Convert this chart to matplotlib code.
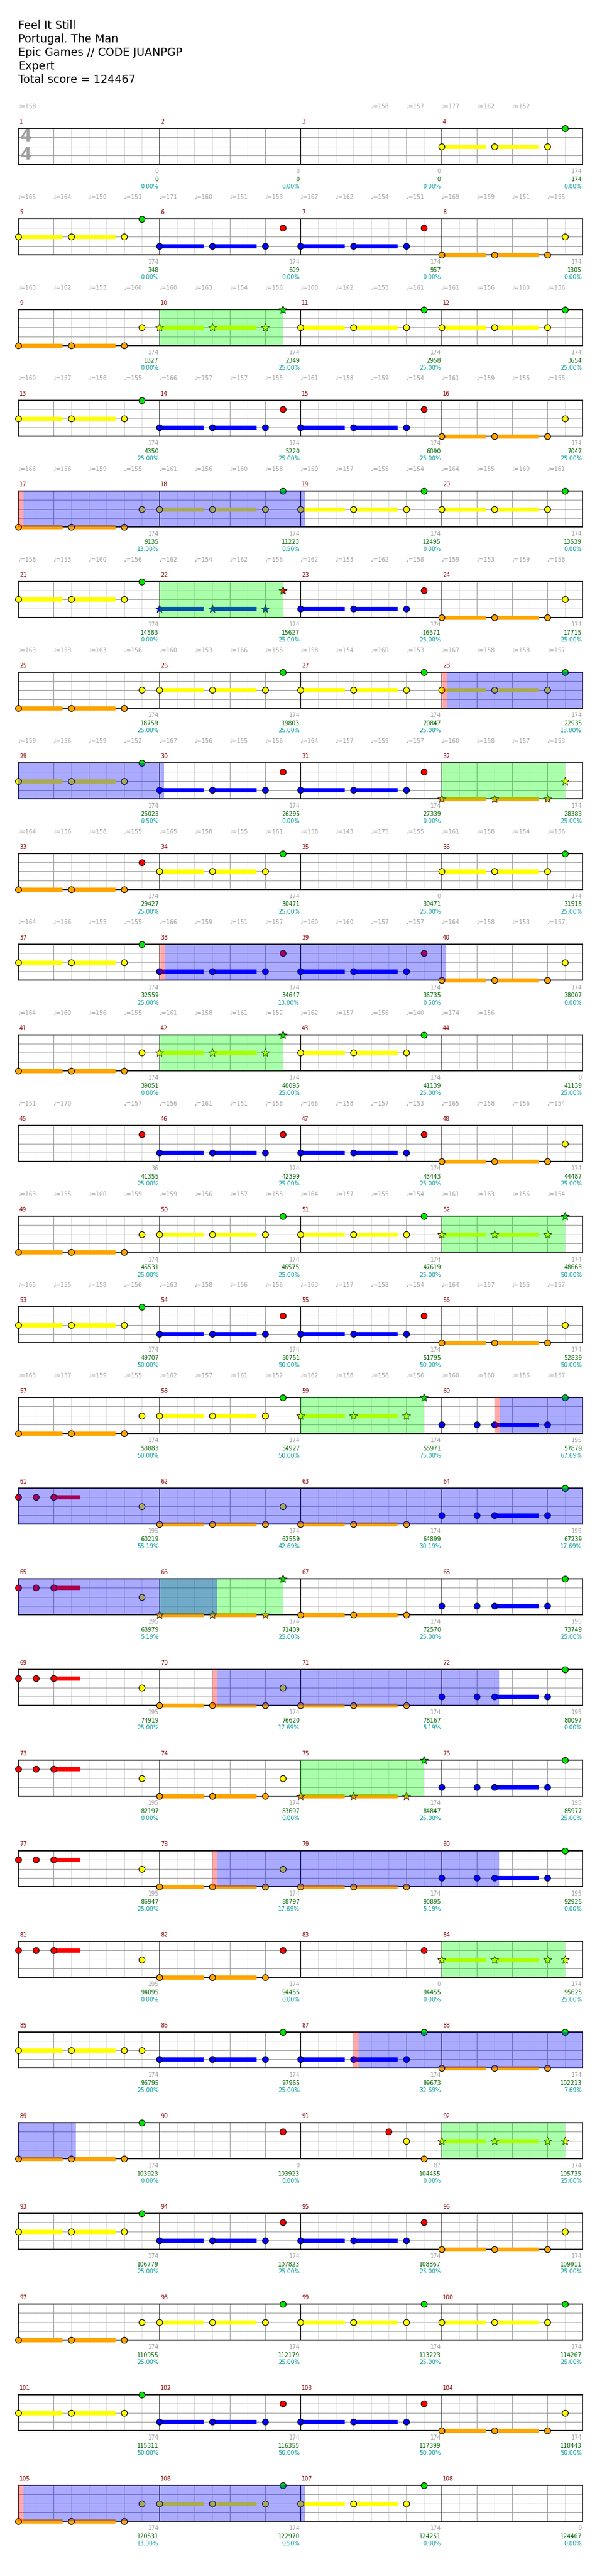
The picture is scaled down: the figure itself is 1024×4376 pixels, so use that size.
import matplotlib
matplotlib.use("Agg")
import matplotlib.pyplot as plt
from matplotlib.patches import Rectangle

W, H = 1024, 4376

title_lines = ["Feel It Still", "Portugal. The Man", "Epic Games // CODE JUANPGP",
               "Expert", "Total score = 124467"]

G, R, Y, B, O = 0, 1, 2, 3, 4
lane_colors = ["#00e800", "#ff0000", "#ffff00", "#0000ff", "#ffa500"]

# repeated figure: (beat, sustain in beats), plus one extra note on beat 3.5
riff = [(0, 1.25), (1.5, 1.25), (3, 0)]
accent_beat = 3.5

N = None
riff_lane = [N, N, N, Y,  Y, B, B, O,  O, Y, Y, Y,  Y, B, B, O,
             O, Y, Y, Y,  Y, B, B, O,  O, Y, Y, Y,  Y, B, B, O,
             O, Y, N, Y,  Y, B, B, O,  O, Y, Y, N,  N, B, B, O,
             O, Y, Y, Y,  Y, B, B, O,  O, Y, Y, N,
             N, O, O, N,  N, O, O, N,  N, O, O, N,  N, O, O, N,
             N, O, O, N,  N, O, N, Y,  Y, B, B, O,  O, N, N, Y,
             Y, B, B, O,  O, Y, Y, Y,  Y, B, B, O,  O, Y, Y, N]
accent_lane = [N, N, N, G,  G, R, R, Y,  Y, G, G, G,  G, R, R, Y,
               Y, G, G, G,  G, R, R, Y,  Y, G, G, G,  G, R, R, Y,
               R, G, N, G,  G, R, R, Y,  Y, G, G, N,  R, R, R, Y,
               Y, G, G, G,  G, R, R, Y,  Y, G, G, N,
               Y, Y, N, N,  Y, G, N, N,  Y, Y, N, N,  Y, Y, G, N,
               Y, Y, N, G,  G, R, R, Y,  Y, G, G, G,  G, R, R, Y,
               G, R, R, Y,  Y, G, G, G,  G, R, R, Y,  Y, G, G, N]
# measures that break the pattern: (beat, lane, sustain)
red_lead = [(0, R, 0), (0.5, R, 0), (1, R, 0.75), (3.5, Y, 0)]
blue_run = [(0, B, 0), (1, B, 0), (1.5, B, 1.25), (3, B, 0), (3.5, G, 0)]
special_notes = {
    60: blue_run, 64: blue_run, 68: blue_run, 72: blue_run, 76: blue_run, 80: blue_run,
    61: red_lead, 65: red_lead, 69: red_lead, 73: red_lead, 77: red_lead, 81: red_lead,
    91: [(2.5, R, 0), (3, Y, 0), (3.5, O, 0)],
}

# star phrases and activations, in beats from the song start
star_phrases = [(36, 39.5), (84, 87.5), (124, 127.5), (164, 167.5), (204, 207.5),
                (232, 235.5), (260, 263.5), (296, 299.5), (332, 335.5), (364, 367.5)]
activations = [(64, 72.13), (108, 116.13), (148, 156.13), (237.5, 261.63),
               (277.5, 285.63), (309.5, 317.63), (345.5, 353.63), (416, 424.13)]
act_lead = 0.15

# tempo marks above each row, one per beat
tempos = [
    [158, N, N, N, N, N, N, N, N, N, 158, 157, 177, 162, 152, N],
    [165, 164, 150, 151, 171, 160, 151, 153, 167, 162, 154, 151, 169, 159, 151, 155],
    [163, 162, 153, 160, 160, 163, 154, 156, 160, 162, 153, 161, 161, 156, 160, 156],
    [160, 157, 156, 155, 166, 157, 157, 155, 161, 158, 159, 154, 161, 159, 155, 155],
    [166, 156, 159, 155, 161, 156, 160, 158, 159, 157, 155, 154, 164, 155, 160, 161],
    [158, 153, 160, 156, 162, 154, 162, 156, 162, 153, 162, 158, 159, 153, 159, 158],
    [163, 153, 163, 156, 160, 153, 166, 155, 158, 154, 160, 153, 167, 158, 158, 157],
    [159, 156, 159, 152, 167, 156, 155, 156, 164, 157, 159, 157, 160, 158, 157, 153],
    [164, 156, 158, 155, 165, 158, 155, 161, 158, 143, 175, 155, 161, 158, 154, 156],
    [164, 156, 155, 155, 166, 159, 151, 157, 160, 160, 157, 157, 164, 158, 153, 157],
    [164, 160, 156, 155, 161, 158, 161, 152, 162, 157, 156, 140, 174, 156, N, N],
    [151, 170, N, 157, 156, 161, 151, 158, 166, 158, 157, 153, 165, 158, 156, 154],
    [163, 155, 160, 159, 159, 156, 157, 155, 164, 157, 155, 154, 161, 163, 156, 154],
    [165, 155, 158, 156, 163, 158, 156, 156, 163, 157, 158, 154, 164, 157, 155, 157],
    [163, 157, 159, 155, 162, 157, 161, 152, 162, 158, 156, 156, 160, 160, 156, 157],
] + [[N] * 16 for _ in range(12)]

measure_score = [0, 0, 0, 174,  174, 174, 174, 174,  174, 174, 174, 174,  174, 174, 174, 174,
                 174, 174, 174, 174,  174, 174, 174, 174,  174, 174, 174, 174,  174, 174, 174, 174,
                 174, 174, 0, 174,  174, 174, 174, 174,  174, 174, 174, 0,  36, 174, 174, 174,
                 174, 174, 174, 174,  174, 174, 174, 174,  174, 174, 174, 195,
                 195, 174, 174, 195,  195, 174, 174, 195,  195, 174, 174, 195,
                 195, 174, 174, 195,  195, 174, 174, 195,  195, 174, 0, 174,
                 174, 174, 174, 174,  174, 0, 87, 174,  174, 174, 174, 174,
                 174, 174, 174, 174,  174, 174, 174, 174,  174, 174, 174, 0]
total_score = [0, 0, 0, 174,  348, 609, 957, 1305,  1827, 2349, 2958, 3654,
               4350, 5220, 6090, 7047,  9135, 11223, 12495, 13539,  14583, 15627, 16671, 17715,
               18759, 19803, 20847, 22935,  25023, 26295, 27339, 28383,  29427, 30471, 30471, 31515,
               32559, 34647, 36735, 38007,  39051, 40095, 41139, 41139,  41355, 42399, 43443, 44487,
               45531, 46575, 47619, 48663,  49707, 50751, 51795, 52839,  53883, 54927, 55971, 57879,
               60219, 62559, 64899, 67239,  68979, 71409, 72570, 73749,
               74919, 76620, 78167, 80097,  82197, 83697, 84847, 85977,
               86947, 88797, 90895, 92925,  94095, 94455, 94455, 95625,
               96795, 97965, 99673, 102213,  103923, 103923, 104455, 105735,
               106779, 107823, 108867, 109911,  110955, 112179, 113223, 114267,
               115311, 116355, 117399, 118443,  120531, 122970, 124251, 124467]
multiplier_pct = ["0.00"] * 9 + ["25.00"] * 7 + ["13.00", "0.50", "0.00", "0.00", "0.00"] \
    + ["25.00"] * 6 + ["13.00", "0.50", "0.00", "0.00"] + ["25.00"] * 6 \
    + ["13.00", "0.50", "0.00", "0.00"] + ["25.00"] * 10 + ["50.00"] * 7 + ["75.00", "67.69"] \
    + ["55.19", "42.69", "30.19", "17.69",  "5.19", "25.00", "25.00", "25.00",
       "25.00", "17.69", "5.19", "0.00",  "0.00", "0.00", "25.00", "25.00",
       "25.00", "17.69", "5.19", "0.00",  "0.00", "0.00", "0.00", "25.00",
       "25.00", "25.00", "32.69", "7.69",  "0.00", "0.00", "0.00", "25.00",
       "25.00", "25.00", "25.00", "25.00",  "25.00", "25.00", "25.00", "25.00",
       "50.00", "50.00", "50.00", "50.00",  "13.00", "0.50", "0.00", "0.00"]

# ---------------------------------------------------------------- layout
x0, staff_w = 31, 960
top0, staff_h, row_step = 218, 61, 154
n_rows = 27

fig = plt.figure(figsize=(W / 100, H / 100), dpi=100)
fig.patch.set_facecolor("white")

for i, line in enumerate(title_lines):
    fig.text(x0 / W, 1 - (49 + 23 * i) / H, line, fontsize=13.5, color="black",
             va="baseline", ha="left")

grey = "#a0a0a0"

for r in range(n_rows):
    top = top0 + r * row_step
    ax = fig.add_axes([x0 / W, 1 - (top + staff_h) / H, staff_w / W, staff_h / H])
    ax.set_xlim(0, 16)
    ax.set_ylim(4, 0)
    ax.set_xticks([])
    ax.set_yticks([])
    for s in ax.spines.values():
        s.set_linewidth(1.3)
        s.set_color("black")
        s.set_zorder(2.5)

    for k in range(1, 32):
        xb = k / 2
        if k % 8 == 0:
            ax.axvline(xb, color="black", lw=0.8, zorder=1.5)
        elif k % 2 == 0:
            ax.axvline(xb, color=grey, lw=0.75, zorder=1.2)
        else:
            ax.axvline(xb, color="#dcdcdc", lw=0.75, zorder=1.1)
    for ln in (1, 2, 3):
        ax.axhline(ln, color=grey, lw=0.75, zorder=1.3)

    row_start = 16 * r

    def in_phrase(t):
        return any(a - 1e-6 <= t <= b + 1e-6 for a, b in star_phrases)

    for j in range(4):
        m = 4 * r + j + 1
        notes = []
        if m in special_notes:
            notes = special_notes[m]
        else:
            if riff_lane[m - 1] is not None:
                notes += [(bt, riff_lane[m - 1], sus) for bt, sus in riff]
            if accent_lane[m - 1] is not None:
                notes.append((accent_beat, accent_lane[m - 1], 0))
        for bt, lane, sus in notes:
            xl = 4 * j + bt
            col = lane_colors[lane]
            if sus > 0:
                ax.plot([xl, xl + sus], [lane, lane], color=col, lw=5.2,
                        solid_capstyle="butt", zorder=3, clip_on=False)
            if in_phrase(row_start + xl):
                ax.plot(xl, lane, marker="*", ms=10, mfc=col, mec="black", mew=0.6,
                        zorder=4, clip_on=False)
            else:
                ax.plot(xl, lane, marker="o", ms=7.4, mfc=col, mec="black", mew=0.8,
                        zorder=4, clip_on=False)

        # measure number and score labels
        ax.annotate(str(m), xy=(4 * j, 0), xycoords="data", xytext=(2, 7.5),
                    textcoords="offset pixels", color="#8b0000", fontsize=7,
                    va="baseline", ha="left", annotation_clip=False)
        xe = 4 * j + 4
        ax.annotate(str(measure_score[m - 1]), xy=(xe, 4), xytext=(-1, -15.5),
                    textcoords="offset pixels", color=grey, fontsize=7,
                    va="baseline", ha="right", annotation_clip=False)
        ax.annotate(str(total_score[m - 1]), xy=(xe, 4), xytext=(-1, -28.5),
                    textcoords="offset pixels", color="#006400", fontsize=7,
                    va="baseline", ha="right", annotation_clip=False)
        ax.annotate(multiplier_pct[m - 1] + "%", xy=(xe, 4), xytext=(-1, -41.5),
                    textcoords="offset pixels", color="#009999", fontsize=7,
                    va="baseline", ha="right", annotation_clip=False)

    for k, bpm in enumerate(tempos[r]):
        if bpm is None:
            continue
        ax.annotate("\u2669=%d" % bpm, xy=(k, 0), xytext=(-1, 33.5),
                    textcoords="offset pixels", color=grey, fontsize=7,
                    va="baseline", ha="left", annotation_clip=False)

    # overlays: star phrases (green), activations (red lead-in, then blue)
    for a, b in star_phrases:
        lo, hi = max(a, row_start), min(b, row_start + 16)
        if hi > lo:
            ax.add_patch(Rectangle((lo - row_start, 0), hi - lo, 4, facecolor=(0, 1, 0),
                                   alpha=1 / 3, lw=0, zorder=5))
    for a, b in activations:
        for (s0, s1, fc) in [(a, a + act_lead, (1, 0, 0)), (a + act_lead, b, (0, 0, 1))]:
            lo, hi = max(s0, row_start), min(s1, row_start + 16)
            if hi > lo:
                ax.add_patch(Rectangle((lo - row_start, 0), hi - lo, 4, facecolor=fc,
                                       alpha=1 / 3, lw=0, zorder=5))

    if r == 0:
        for yy in (1, 3):
            ax.text(0.22, yy - 0.05, "4", color=grey, fontsize=20, fontweight="bold",
                    ha="center", va="center", zorder=2)

fig.savefig("out.png", dpi=100)
